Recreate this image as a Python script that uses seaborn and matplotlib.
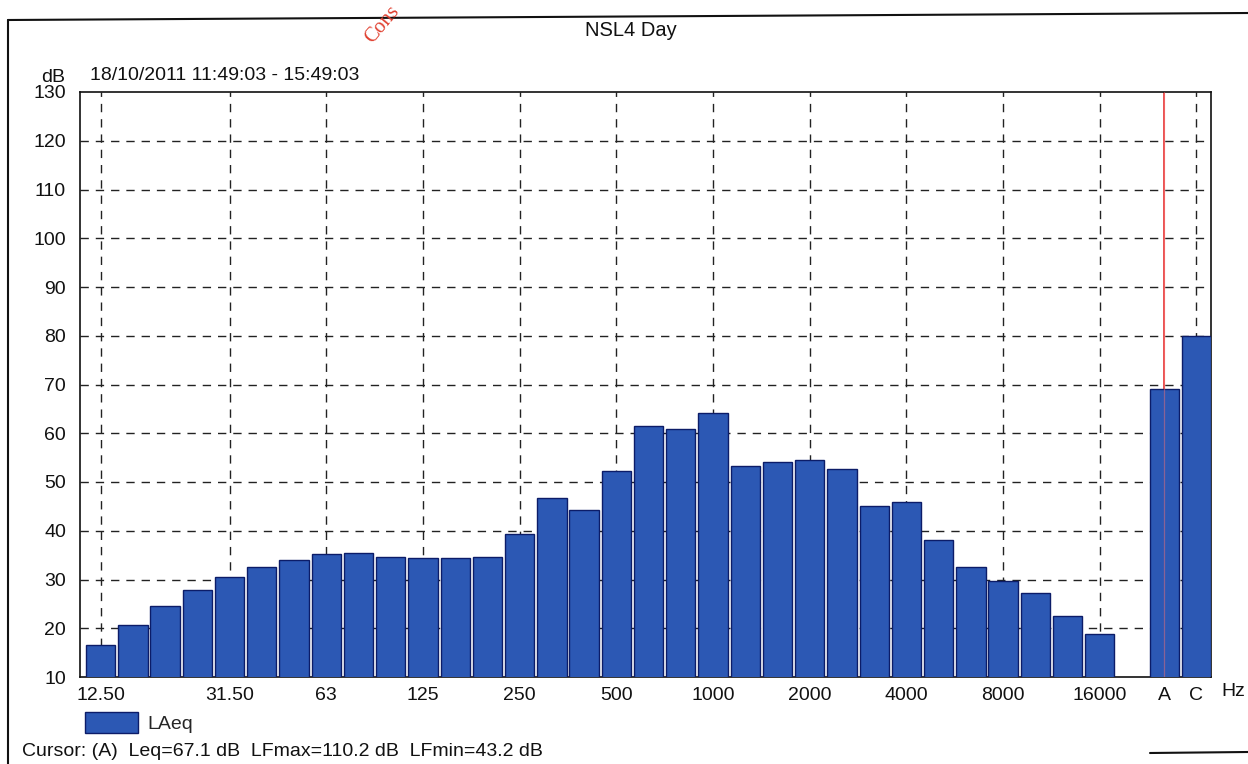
import numpy as np
import pandas as pd
import matplotlib
matplotlib.use("Agg")
import matplotlib.pyplot as plt
import seaborn as sns
from matplotlib.lines import Line2D

# ---- data ----
bands = ["12.5", "16", "20", "25", "31.5", "40", "50", "63", "80", "100",
         "125", "160", "200", "250", "315", "400", "500", "630", "800", "1000",
         "1250", "1600", "2000", "2500", "3150", "4000", "5000", "6300", "8000",
         "10000", "12500", "16000", "20000", "A", "C"]
levels = [16.6, 20.7, 24.6, 27.8, 30.5, 32.5, 33.9, 35.3, 35.5, 34.7,
          34.5, 34.4, 34.7, 39.4, 46.7, 44.3, 52.2, 61.4, 60.8, 64.2,
          53.3, 54.1, 54.5, 52.7, 45.1, 45.9, 38.2, 32.5, 29.7,
          27.2, 22.6, 18.9, np.nan, 69.0, 79.9]
tick_bands = ["12.5", "31.5", "63", "125", "250", "500", "1000", "2000",
              "4000", "8000", "16000", "A", "C"]
tick_labels = ["12.50", "31.50", "63", "125", "250", "500", "1000", "2000",
               "4000", "8000", "16000", "A", "C"]
y_ticks = list(range(10, 131, 10))
series_name = "LAeq"
cursor_band = "A"

title = "NSL4 Day"
period = "18/10/2011 11:49:03 - 15:49:03"
cursor_text = "Cursor: (A)  Leq=67.1 dB  LFmax=110.2 dB  LFmin=43.2 dB"

df = pd.DataFrame({"band": bands, "level": levels, "series": series_name})

# ---- style ----
sns.set_style("white")
plt.rcParams["font.family"] = ["Liberation Sans", "DejaVu Sans"]

W, H = 1248, 764
fig = plt.figure(figsize=(W / 100, H / 100), dpi=100)
fig.patch.set_facecolor("white")

def fx(px):
    return px / W

def fy(py):
    return 1 - py / H

ax = fig.add_axes([fx(80), fy(677), fx(1211) - fx(80), fy(92) - fy(677)])

bar_color = "#2c58b4"
edge_color = "#0c1c68"
txt = "#111111"
fs = 14

sns.barplot(data=df, x="band", y="level", hue="series", order=bands,
            palette=[bar_color], width=0.91, dodge=False, ax=ax,
            edgecolor=edge_color, linewidth=1.0, saturation=1, zorder=3)

ax.set_ylim(10, 130)
ax.set_xlim(-0.64, 34.45)
ax.set_yticks(y_ticks)
ax.set_yticklabels([str(v) for v in y_ticks])

tick_pos = [bands.index(b) for b in tick_bands]
ax.set_xticks(tick_pos)
ax.set_xticklabels(tick_labels)
ax.set_xlabel("")
ax.set_ylabel("")

ax.tick_params(axis="x", length=0, pad=7, labelsize=fs, colors=txt)
ax.tick_params(axis="y", length=8, width=1, direction="out", pad=2,
               labelsize=fs, colors=txt)

# grid
for v in y_ticks[1:-1]:
    ax.axhline(v, color="#222222", lw=1.0, ls=(0, (6, 5)), zorder=1)
for b in tick_bands:
    if b == cursor_band:
        continue
    ax.axvline(bands.index(b), color="#222222", lw=1.0, ls=(0, (6, 5)), zorder=1)

# cursor line
ci = bands.index(cursor_band)
ax.axvline(ci, color="#e02020", lw=1.1, zorder=2)
ax.axvline(ci, color="#ff7070", lw=0.9, alpha=0.45, zorder=5)

for s in ["left", "right", "top", "bottom"]:
    ax.spines[s].set_visible(True)
    ax.spines[s].set_color(txt)
    ax.spines[s].set_linewidth(1.2)

# legend
handles, labels = ax.get_legend_handles_labels()
if ax.get_legend() is not None:
    ax.get_legend().remove()
fig.legend(handles, labels, loc="upper left",
           bbox_to_anchor=(fx(85), fy(712)), frameon=False,
           handlelength=2.75, handleheight=1.25, handletextpad=0.45,
           borderpad=0, borderaxespad=0, fontsize=fs)

# texts
fig.text(fx(631), fy(30), title, ha="center", va="center", fontsize=14.5, color=txt)
fig.text(fx(41), fy(77), "dB", ha="left", va="center", fontsize=fs, color=txt)
fig.text(fx(90), fy(76), period, ha="left", va="center", fontsize=fs, color=txt)
fig.text(fx(1221), fy(692), "Hz", ha="left", va="center", fontsize=fs, color=txt)
fig.text(fx(22), fy(751), cursor_text, ha="left", va="center", fontsize=fs, color=txt)

# stamp fragment
fig.text(fx(372), fy(44), "Cons", ha="left", va="baseline", rotation=50,
         rotation_mode="anchor", fontsize=15, color="#e04030",
         family="Liberation Serif")

# outer frame
fig.add_artist(Line2D([fx(8), fx(8)], [fy(20), fy(764)], transform=fig.transFigure,
                      color=txt, lw=1.5))
fig.add_artist(Line2D([fx(8), fx(1248)], [fy(20), fy(13)], transform=fig.transFigure,
                      color=txt, lw=1.5))
fig.add_artist(Line2D([fx(1150), fx(1248)], [fy(753), fy(752)], transform=fig.transFigure,
                      color=txt, lw=1.5))

fig.savefig("out.png", dpi=100, facecolor="white")
